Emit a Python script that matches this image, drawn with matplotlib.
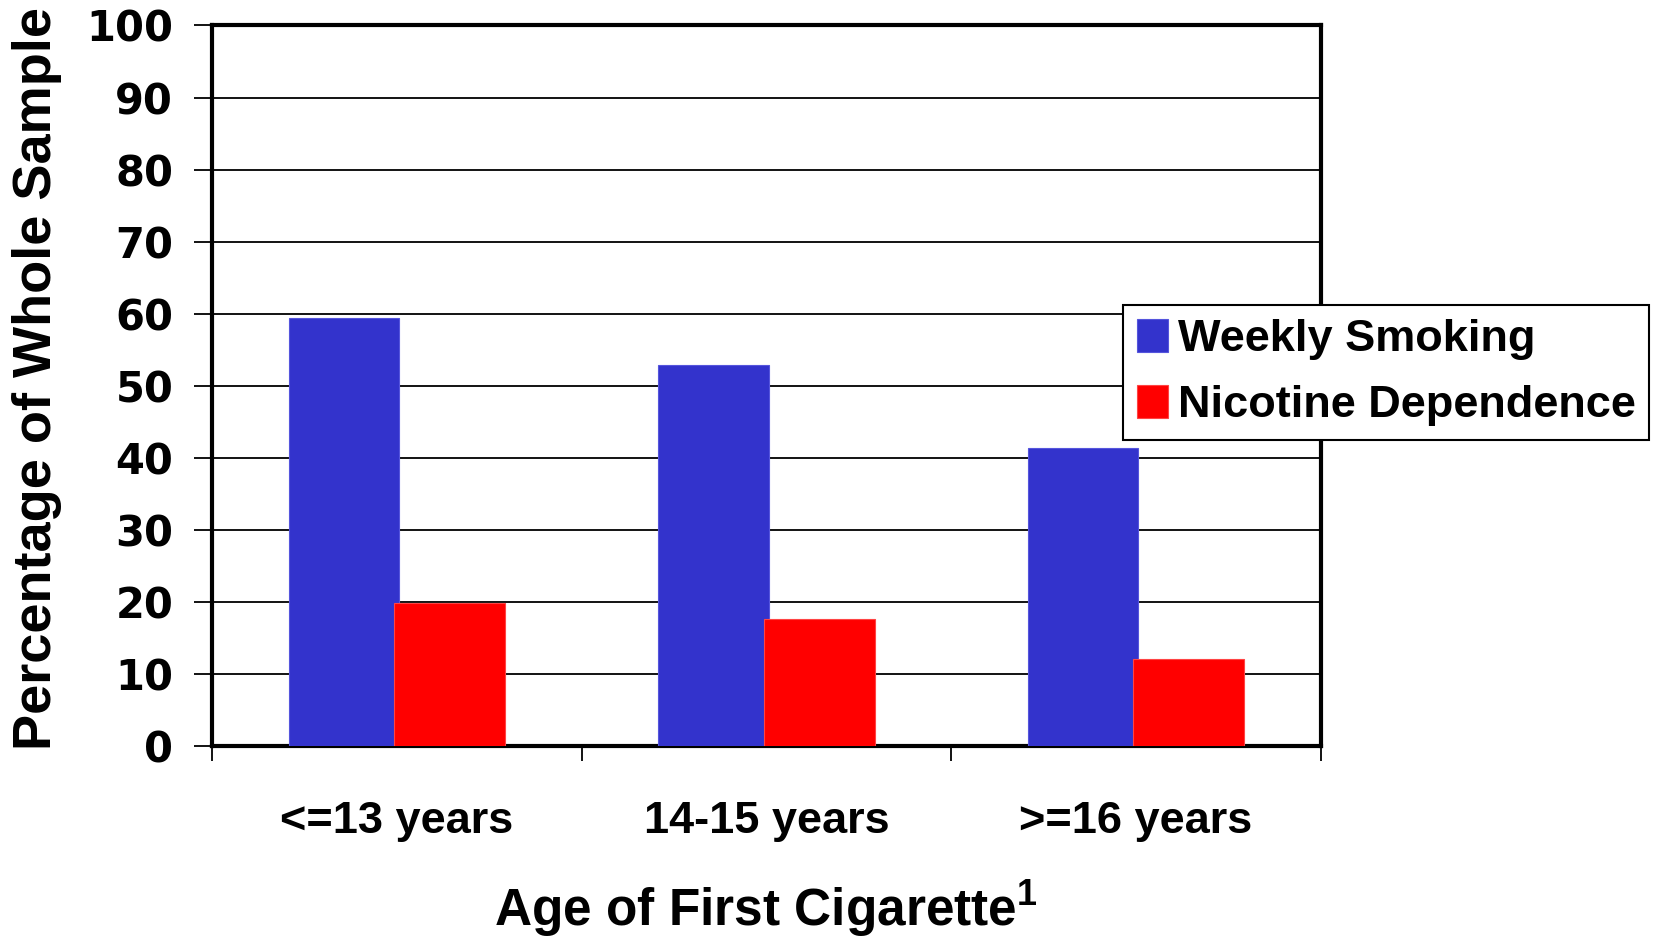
import matplotlib
matplotlib.use("Agg")
import matplotlib.pyplot as plt
import numpy as np

# data
categories = ["<=13 years", "14-15 years", ">=16 years"]
weekly_smoking = [59.4, 52.9, 41.4]
nicotine_dep = [19.8, 17.6, 12.0]
yticks = list(range(0, 101, 10))

plt.rcParams["font.family"] = ["Liberation Sans", "DejaVu Sans"]
plt.rcParams["mathtext.fontset"] = "custom"
plt.rcParams["mathtext.rm"] = "Liberation Sans"
plt.rcParams["mathtext.bf"] = "Liberation Sans:bold"

fig = plt.figure(figsize=(16.57, 9.43), dpi=100)
ax = fig.add_axes([0.128, 0.209, 0.669, 0.764])

x = np.arange(len(categories))
w = 0.30
ax.bar(x - 0.143, weekly_smoking, w, color="#3333CC", edgecolor="#5555DD",
       linewidth=0.8, label="Weekly Smoking", zorder=3)
ax.bar(x + 0.143, nicotine_dep, w, color="#FF0000", edgecolor="#FF4444",
       linewidth=0.8, label="Nicotine Dependence", zorder=4)

ax.set_xlim(-0.5, 2.5)
ax.set_ylim(0, 100)
ax.set_yticks(yticks)
ax.set_yticklabels([str(v) for v in yticks], fontfamily="DejaVu Sans",
                   fontweight="heavy", fontsize=30)
ax.yaxis.grid(True, color="black", linewidth=1.3, zorder=1)
ax.set_axisbelow(True)
ax.tick_params(axis="y", length=13, width=1.3, pad=15, direction="out")

# category labels centred, tick marks at the category boundaries
ax.set_xticks(x)
ax.set_xticklabels(categories, fontweight="bold", fontsize=32.5)
ax.set_xticks([-0.5, 0.5, 1.5, 2.5], minor=True)
ax.tick_params(axis="x", which="major", length=0, pad=40)
ax.tick_params(axis="x", which="minor", length=11, width=1.3, direction="out")

for s in ax.spines.values():
    s.set_linewidth(3)
    s.set_color("black")

ax.set_xlabel(r"Age of First Cigarette$^{\mathbf{1}}$", fontweight="bold",
              fontsize=37, labelpad=26)
ax.set_ylabel("Percentage of Whole Sample", fontweight="bold", fontsize=39,
              labelpad=12)
ax.yaxis.set_label_coords(-0.135, 0.51)

leg = ax.legend(loc="upper left", bbox_to_anchor=(1123 / 1657, 1 - 305 / 943),
                bbox_transform=fig.transFigure,
                prop={"weight": "bold", "size": 32.5},
                frameon=True, fancybox=False, framealpha=1, edgecolor="black",
                handlelength=0.7, handleheight=0.75, handletextpad=0.22,
                labelspacing=0.56, borderpad=0.3, borderaxespad=0)
leg.get_frame().set_linewidth(1.5)
leg.set_zorder(10)

fig.savefig("out.png", dpi=100)
